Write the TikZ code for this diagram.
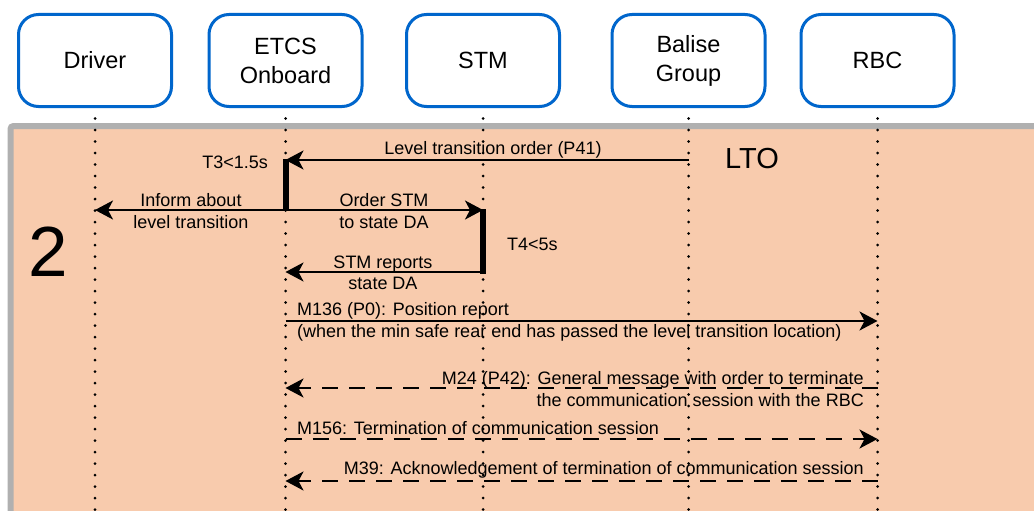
\documentclass[tikz,border=0pt]{standalone}
\usepackage{fontspec}
\setmainfont{Liberation Sans}
\usetikzlibrary{arrows.meta}
\definecolor{boxblue}{HTML}{0066CC}
\definecolor{peach}{HTML}{F8CBAD}
\definecolor{framegray}{HTML}{B0B0B0}
\begin{document}
\begin{tikzpicture}[x=1pt,y=1pt,
  actor/.style={draw=boxblue, line width=3pt, rounded corners=20pt, minimum width=153pt, minimum height=92pt, align=center, fill=white, inner sep=0pt, font=\fontsize{23.5}{29}\selectfont},
  life/.style={line width=3pt, line cap=round, dash pattern=on 0pt off 11.5pt},
  msg/.style={line width=2pt, -{Stealth[length=18pt,width=19pt,inset=5pt]}},
  dmsg/.style={msg, dash pattern=on 16pt off 11pt},
  actbar/.style={line width=6pt},
  lbl/.style={inner sep=0pt, font=\fontsize{18}{21.5}\selectfont},
]
\useasboundingbox (0,0) rectangle (1034,-511);
\clip (0,0) rectangle (1034,-511);
\fill[white] (0,0) rectangle (1034,-511);
\draw[framegray, line width=6pt, fill=peach, rounded corners=3pt] (10.5,-126) rectangle (1045,-525);

% actors
\node[actor] (driver) at (95,-60.5) {Driver};
\node[actor] (etcs) at (285.5,-60.5) {ETCS\\Onboard};
\node[actor] (stm) at (483,-60.5) {STM};
\node[actor] (balise) at (688.5,-60.5) {Balise\\Group};
\node[actor] (rbc) at (877.5,-60.5) {RBC};

% lifelines
\foreach \a in {driver,etcs,stm,balise,rbc}{
  \draw[life] ([yshift=-10.5pt]\a.south) -- (\a.south |- 0,-515);
}

% big labels
\node[inner sep=0pt, font=\fontsize{71}{71}\selectfont] (phase) at (48.5,-252) {2};
\node[inner sep=0pt, font=\fontsize{29}{29}\selectfont] (lto) at (752,-159) {LTO};

% messages
\draw[msg] (balise.south |- 0,-160) -- (etcs.south |- 0,-160);
\node[lbl] (m1) at (493,-150) {Level transition order (P41)};
\node[lbl, anchor=east] (t3) at (268,-162) {T3<1.5s};
\draw[actbar] (etcs.south |- 0,-158.5) -- (etcs.south |- 0,-211);

\draw[msg] (etcs.south |- 0,-210) -- (driver.south |- 0,-210);
\node[lbl, align=center] (m2) at (191,-211) {Inform about\\level transition};
\draw[msg] (etcs.south |- 0,-210) -- (stm.south |- 0,-210);
\node[lbl, align=center] (m3) at (384,-211) {Order STM\\to state DA};
\draw[actbar] (stm.south |- 0,-209) -- (stm.south |- 0,-274);
\node[lbl, anchor=west] (t4) at (507,-244) {T4<5s};
\draw[msg] (stm.south |- 0,-272) -- (etcs.south |- 0,-272);
\node[lbl, align=center] (m4) at (383,-273) {STM reports\\state DA};

\draw[msg] (etcs.south |- 0,-321) -- (rbc.south |- 0,-321);
\node[lbl, align=left, anchor=west] (m5) at (297,-322) {M136 (P0): Position report\\(when the min safe rear end has passed the level transition location)};

\draw[dmsg] (rbc.south |- 0,-388) -- (etcs.south |- 0,-388);
\node[lbl, align=right, anchor=east] (m6) at (864,-389) {M24 (P42): General message with order to terminate\\the communication session with the RBC};

\draw[dmsg] (etcs.south |- 0,-439) -- (rbc.south |- 0,-439);
\node[lbl, anchor=west] (m7) at (297,-428) {M156: Termination of communication session};

\draw[dmsg] (rbc.south |- 0,-481) -- (etcs.south |- 0,-481);
\node[lbl, anchor=east] (m8) at (864,-470) {M39: Acknowledgement of termination of communication session};
\end{tikzpicture}
\end{document}
